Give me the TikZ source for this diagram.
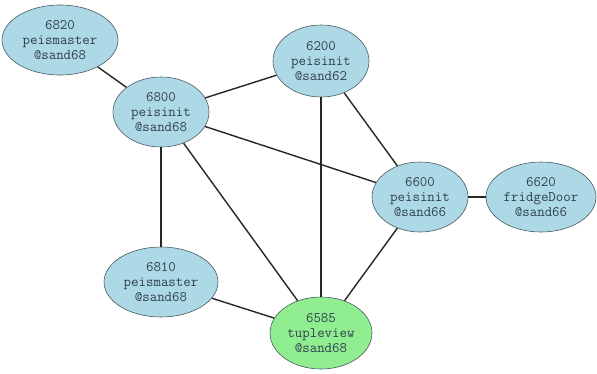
\documentclass[tikz,border=0pt]{standalone}
\usetikzlibrary{shapes.geometric}
\definecolor{nodeblue}{HTML}{ADD8E6}
\definecolor{nodegreen}{HTML}{90EE90}
\definecolor{txt}{HTML}{2F3F4F}
\definecolor{rim}{HTML}{4A5A60}
\tikzset{
  proc/.style={ellipse, draw=rim, line width=0.6pt, fill=nodeblue, inner sep=0pt,
    align=center, text=txt, font=\fontsize{14.5}{15}\selectfont\ttfamily},
  viewer/.style={proc, fill=nodegreen},
  link/.style={line width=1.4pt, black!85}
}
\begin{document}
\begin{tikzpicture}[x=1pt,y=-1pt]
\useasboundingbox (0,0) rectangle (597,373);
\node[proc, minimum width=116pt, minimum height=70pt] (n6820) at (60,40) {6820\\peismaster\\@sand68};
\node[proc, minimum width=96pt, minimum height=70pt] (n6800) at (161,112) {6800\\peisinit\\@sand68};
\node[proc, minimum width=96pt, minimum height=72pt] (n6200) at (321,61) {6200\\peisinit\\@sand62};
\node[proc, minimum width=96pt, minimum height=70pt] (n6600) at (420,197) {6600\\peisinit\\@sand66};
\node[proc, minimum width=110pt, minimum height=70pt] (n6620) at (541,197) {6620\\fridgeDoor\\@sand66};
\node[proc, minimum width=114pt, minimum height=70pt] (n6810) at (161,282) {6810\\peismaster\\@sand68};
\node[viewer, minimum width=102pt, minimum height=72pt] (n6585) at (321,333) {6585\\tupleview\\@sand68};
\draw[link] (n6820) -- (n6800);
\draw[link] (n6800) -- (n6200);
\draw[link] (n6800) -- (n6600);
\draw[link] (n6800) -- (n6810);
\draw[link] (n6800) -- (n6585);
\draw[link] (n6200) -- (n6600);
\draw[link] (n6200) -- (n6585);
\draw[link] (n6600) -- (n6620);
\draw[link] (n6600) -- (n6585);
\draw[link] (n6810) -- (n6585);
\end{tikzpicture}
\end{document}
